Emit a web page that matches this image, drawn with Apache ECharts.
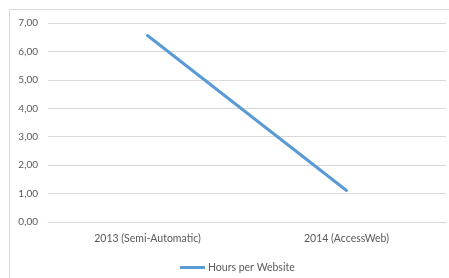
<!DOCTYPE html>
<html>
<head>
<meta charset="utf-8">
<script src="https://cdn.jsdelivr.net/npm/echarts@6/dist/echarts.min.js"></script>
<style>
  html, body { margin: 0; padding: 0; background: #fff; }
  #main { width: 449px; height: 278px; }
</style>
</head>
<body>
<div id="main"></div>
<script>
    var categories = ['2013 (Semi-Automatic)', '2014 (AccessWeb)'];
    var hoursPerWebsite = [6.56, 1.11];
    var seriesName = 'Hours per Website';

    var myChart = echarts.init(document.getElementById('main'));

    var textColor = '#595959';
    var fontFamily = 'Lato, "Open Sans", sans-serif';

    var option = {
        animation: false,
        // 外框
        graphic: [{
            type: 'rect',
            shape: { x: 9.5, y: 9.5, width: 460, height: 300 },
            style: { fill: 'none', stroke: '#d9d9d9', lineWidth: 1 },
            silent: true
        }],
        grid: {
            left: 48,
            right: 3,
            top: 23,
            bottom: 56
        },
        legend: {
            top: 257,
            left: 175,
            icon: 'rect',
            itemWidth: 25,
            itemHeight: 3,
            textStyle: { color: textColor, fontSize: 10.5, fontFamily: fontFamily, padding: [0, 0, 0, -2] },
            data: [seriesName]
        },
        xAxis: {
            type: 'category',
            data: categories,
            boundaryGap: true,
            axisLine: { lineStyle: { color: '#d9d9d9' } },
            axisTick: { show: false },
            axisLabel: { color: textColor, fontSize: 10.5, fontFamily: fontFamily, margin: 11 }
        },
        yAxis: {
            type: 'value',
            min: 0,
            max: 7,
            interval: 1,
            axisLine: { show: false },
            axisTick: { show: false },
            splitLine: { lineStyle: { color: '#d9d9d9' } },
            axisLabel: {
                color: textColor,
                fontSize: 10,
                fontFamily: fontFamily,
                margin: 10,
                formatter: function (value) {
                    return value.toFixed(2).replace('.', ',');
                }
            }
        },
        series: [{
            name: seriesName,
            type: 'line',
            data: hoursPerWebsite,
            symbol: 'none',
            lineStyle: { color: '#5b9bd5', width: 3, cap: 'round' },
            itemStyle: { color: '#5b9bd5' }
        }]
    };

    myChart.setOption(option);
</script>
</body>
</html>
